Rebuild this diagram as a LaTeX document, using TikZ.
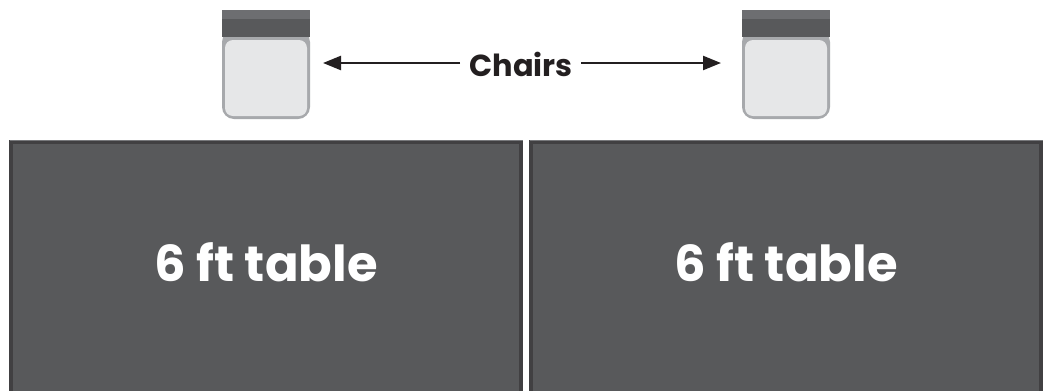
\documentclass[tikz,border=0pt]{standalone}
\usepackage{fontspec}
\setmainfont{Poppins}
\newfontfamily\heavyfont{Poppins Bold}
\usetikzlibrary{arrows.meta}
\definecolor{tabfill}{HTML}{58595B}
\definecolor{tabedge}{HTML}{414042}
\definecolor{tabtop}{HTML}{77787B}
\definecolor{backband}{HTML}{6D6E71}
\definecolor{chairedge}{HTML}{A7A9AC}
\definecolor{chairfill}{HTML}{E6E7E8}
\definecolor{inkc}{HTML}{231F20}
\tikzset{
  x=0.75pt,y=-0.75pt,
  tabletext/.style={text=white,font=\heavyfont\fontsize{37.2}{40}\selectfont,inner sep=0pt},
  chairlabel/.style={text=inkc,font=\heavyfont\fontsize{22.8}{24}\selectfont,inner sep=0pt},
  pointer/.style={draw=inkc,line width=1.8pt,-{Triangle[length=13.5pt,width=10.5pt]}},
  tablebox/.style={fill=tabfill,draw=tabedge,line width=2.4pt},
  tabletop/.style={draw=tabtop,line width=0.9pt}
}
\newcommand{\chairat}[1]{%
  \begin{scope}[shift={(#1,0)}]
    \fill[chairedge,rounded corners=9pt] (0,30) -- (0,119) -- (88,119) -- (88,30) -- cycle;
    \fill[chairfill,rounded corners=6pt] (3,40) rectangle (85,116);
    \fill[tabfill] (0,19) rectangle (88,37);
    \fill[backband] (0,10) rectangle (88,19);
  \end{scope}}
\begin{document}
\begin{tikzpicture}
\useasboundingbox (0,0) rectangle (1047,390);
\fill[white] (0,0) rectangle (1047,390);
\begin{scope}
\clip (0,0) rectangle (1047,390);
\draw[tablebox] (11,142) rectangle (521,400);
\draw[tablebox] (531,142) rectangle (1041,400);
\draw[tabletop] (9.5,140.5) -- (522.5,140.5);
\draw[tabletop] (529.5,140.5) -- (1042.5,140.5);
\end{scope}
\node[tabletext] (t1) at (266,262) {6 ft table};
\node[tabletext] (t2) at (786,262) {6 ft table};
\chairat{222}
\chairat{742}
\node[chairlabel] (lab) at (521,64) {Chairs};
\coordinate (la) at (323,63);
\coordinate (ra) at (721,63);
\coordinate (ls) at (460,63);
\coordinate (rs) at (581,63);
\draw[pointer] (ls) -- (la);
\draw[pointer] (rs) -- (ra);
\end{tikzpicture}
\end{document}
